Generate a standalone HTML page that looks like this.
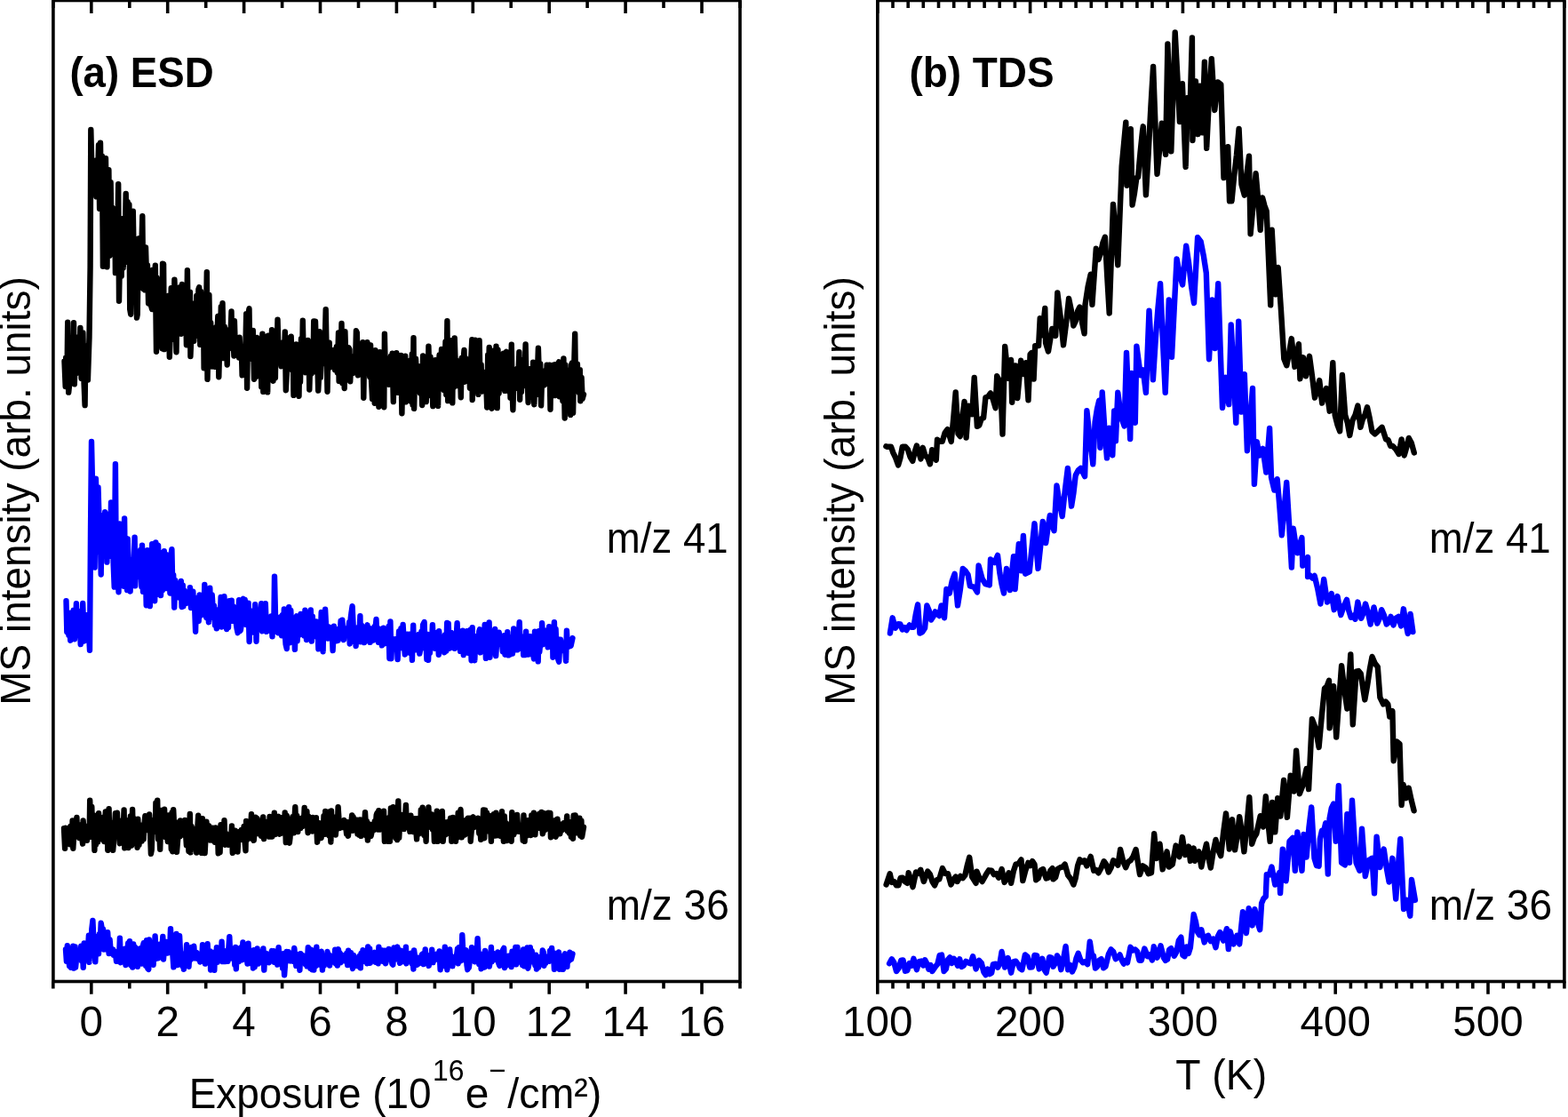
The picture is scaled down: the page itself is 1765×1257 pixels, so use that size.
<!DOCTYPE html><html><head><meta charset="utf-8"><title>ESD and TDS</title><style>html,body{margin:0;padding:0;background:#fff;overflow:hidden}svg{display:block}text{font-family:'Liberation Sans', Arial, Helvetica, sans-serif;fill:#000;font-kerning:none;font-feature-settings:"kern" 0}</style></head><body>
<svg width="1765" height="1257" viewBox="0 0 1765 1257">
<rect width="1765" height="1257" fill="#fff"/>
<polyline fill="none" stroke="#000" stroke-width="6.4" stroke-linejoin="round" stroke-linecap="round" points="72.5,406.5 73.7,435 74.2,402.5 75.6,414.5 76.2,362.7 77.2,441.6 78.4,430.3 79.1,401 80.1,417.5 80.8,405 82.1,429.3 83,363.2 83.8,432.3 85,390.4 85.7,420.2 86.7,383.9 87.5,410.6 88.6,379 89.4,411.8 90.4,368.9 91.6,425.9 92.3,411.4 93.4,374.5 94.6,432 95.6,456.1 96.4,389.1 97.2,413.3 98,407.1 98.9,427.6 100.5,379.6 101.6,300 102.3,146 103.5,196.2 104.3,200.9 105.6,182 106.1,215.2 107.4,180.6 108.4,221.4 109,180.3 109.9,208 111,163.1 112.1,234.9 113,160.8 113.8,223.4 114.9,175.7 115.9,299.8 116.8,212.9 117.8,231.3 119,178.3 119.8,245.3 120.5,300.4 121.4,216.9 122.4,191.2 123.5,287.6 124.6,205.2 125.5,264.4 126.2,233.5 127.5,262 128.2,262.9 129.3,235.5 129.9,307.1 130.8,261.9 131.8,301.7 133.2,207.2 134,338.8 135,286.5 135.9,260.9 136.7,310.8 137.7,246.1 138.7,301.4 139.8,254.7 140.5,284.4 141.7,217.9 142.5,279.2 143.6,227.2 144.3,295.3 145.4,230.2 146.2,348 147.2,353.8 148,293.7 148.9,329.6 149.8,237.7 151.1,319.7 151.9,278.4 153.1,304.9 154,357.6 154.7,353.8 156,268.5 156.8,323.8 157.8,300.4 158.5,304.9 159.4,275.9 160.3,243.2 161.3,324.9 162.5,278.8 163.1,326.4 164,278.4 165.4,324.9 166,298.5 167.1,341.5 168.1,307.2 169.1,328.9 170,343.8 171.2,348.1 172,303.7 172.9,336.2 173.9,320.9 174.8,298.8 176,395.8 176.5,312.4 177.7,324.1 178.6,366.1 179.2,389.1 180.3,320.5 181.6,348 182.5,392.3 183,296.7 184.1,297.1 184.9,393.1 186.3,343.1 186.9,384.6 187.8,369.9 189.3,368.1 189.9,332.8 190.8,401.8 191.6,379.6 192.7,324.2 193.7,355.6 194.7,342.5 195.4,381.8 196.4,314.7 197.4,344.7 198.5,396.2 199.3,341.5 200.5,361.1 201.2,362.2 202.5,323.2 203.5,324.3 203.9,375.7 205,320 206.1,327.1 207.2,343.3 207.8,348.2 208.8,324.7 209.9,388.3 210.9,304.2 212,380.4 213,360.8 213.9,328.8 214.4,401 215.9,365 216.6,344.3 217.3,359.2 218.3,383.8 219.5,341.1 220.3,372.7 221.3,332.9 222.4,377.8 223.4,325.6 224.2,323.3 225.3,387.9 226,327.9 227.3,371.5 228,349.3 229.2,370.7 229.6,414.2 231,359.6 231.8,371 232.8,306.2 233.5,426.8 234.6,381.6 235.4,331.9 236.3,384.1 237.2,363.2 238.6,412.5 239.4,371.8 240.1,386.1 241.1,371.7 242.2,412.8 243.3,368.3 243.9,389.3 245.3,355.9 246.3,424.2 246.8,404.4 248,384.1 248.8,345.3 249.9,383.4 250.5,341.1 251.7,403.1 252.7,367.6 253.7,384.8 254.7,371.2 255.7,410.5 256.3,378 257.2,388.8 258.3,371.1 259.3,382.8 260.5,350.5 261.3,392.1 262.3,375.5 263.4,400.5 263.9,361.1 264.9,393.7 265.9,385.7 266.8,397 267.9,387.2 269.1,402.6 269.6,379.8 270.7,399.5 271.8,392.3 272.6,422.4 273.8,390.2 274.6,405 275.7,392.2 276.2,398.5 277.2,353.1 278.1,436.7 279.4,353.7 280.5,347.2 280.9,378.7 282.3,399.6 283.2,376.5 284.2,404.4 284.8,372 286,426.8 286.7,380 287.6,424.5 288.9,383.9 289.4,379.9 290.8,403.8 291.5,395.8 292.5,423.6 293.7,399.5 294.3,435.5 295.4,375.8 296.3,440.9 297.1,400.5 298.2,408.7 299,409.4 300.3,378.7 301.2,441.4 301.9,377.6 303.3,425.5 303.9,383.5 305,421.1 306,371.2 306.7,396.5 307.5,428.7 308.9,385.6 309.9,425.3 310.4,388.3 311.4,407.9 312.5,359.7 313.5,396.9 314.7,385.5 315.6,401.3 316.6,412.3 317.1,386 318.3,403.9 319.1,394.7 319.9,407.3 320.8,373.5 321.8,439.2 322.9,418.6 323.7,380.1 324.7,415.6 325.5,390.5 326.8,390.2 327.7,378.8 328.5,416.1 329.6,388.2 330.5,444.9 331.6,394.9 332.7,418.5 333.3,387.5 334.4,415.2 335.1,401.8 336.5,445.8 337.3,395.9 338,430 339,381.3 339.9,417 340.8,360.8 341.8,404.8 343.1,392.2 343.8,419.2 344.7,394.6 345.7,409.8 346.6,382.9 347.8,401.7 348.3,438.5 349.4,398.3 350.4,420.7 351.3,396.8 352.5,412 353.2,361.5 354.2,418.3 355,361.6 356.3,408.2 357.1,394.7 358.2,439.6 358.9,426.1 359.7,373.3 360.8,424.8 362.1,388 363,409.3 363.7,391 364.9,406.6 365.4,397.2 366.7,348.2 367.5,390.4 368.5,440.7 369.3,398 370.7,385.8 371.3,413.5 372.6,403.9 373.1,412 374.2,406.1 375.2,412.2 376.3,393.8 377,416.2 378,403.2 378.8,390.2 379.8,419.3 381,374.4 381.6,428.9 382.8,404.8 383.6,415.2 384.5,364 385.4,431.3 386.8,404.7 387.7,437 388.4,373.2 389.4,408 390.5,410.6 391.4,427.3 392.5,391.3 393.5,393.2 394.2,429.3 395.2,405.7 396.1,418.8 396.9,410.4 398,419.9 399.1,400.8 399.9,416.3 400.9,372.3 401.8,374.3 403,422.4 403.9,399.4 404.4,401.7 405.8,415.4 406.8,414.7 407.7,410.6 408.4,385.1 409.3,447.7 410.2,391.4 411,386.5 412.2,413.3 413.4,385.2 414.3,417.5 415.2,409.8 416.2,423.9 417.1,388.4 417.8,423.3 419.1,449.2 419.8,421.2 421,419.4 421.7,453.7 422.5,394.1 423.8,440.4 424.4,446.6 425.8,403.9 426.4,457.8 427.6,396.2 428.1,418.9 429.4,397.8 430.4,427.1 431,401.6 432.3,458.3 432.9,375.8 434,427.7 435,413.7 436.1,420.9 436.7,413.1 437.7,432.8 439,411.8 439.9,400.7 440.7,425.2 441.6,397.6 442.8,452.1 443.6,418 444.4,437.7 445.7,416.8 446.3,397.1 447.6,441.7 448.4,400.5 449.4,435.5 450.4,437.3 451.3,400 452.4,465.3 453.3,415.8 453.9,418.4 454.8,430.2 456.2,400.8 456.7,452.3 457.7,410.8 459,435.4 460,418.7 460.9,430.7 461.7,405.8 462.5,451.6 463.8,398.4 464.6,455.7 465.5,380.2 466.1,459.8 467.2,417.2 468,403.8 469.5,431.5 470,419 471,424.6 472.1,412.4 472.9,442.3 474,414.7 475.2,456 476.1,400.4 476.7,442.2 478,441.6 478.7,403.8 479.7,452.1 480.6,421 481.9,436 482.4,389.7 483.6,429.6 484.5,401.8 485.5,445.6 486.1,415.5 487.3,457.1 488.5,406.4 489.2,419.1 490,405.3 490.8,438.3 492,410.6 493.1,456.9 493.7,412.1 494.6,399.4 495.9,431.9 497,393 497.7,419.9 498.8,406.5 499.5,439 500.5,413.4 501.5,384.4 502.3,444.1 503.4,361.2 504.2,451.1 505.6,413.7 506.4,420.7 507,430.1 508,383.1 509.3,453.4 510,391.3 510.9,435.7 511.7,380.4 513,420.8 513.9,405.7 515,434.1 515.6,412 516.9,428.4 517.9,414 518.8,447.2 519.7,403 520.5,424.1 521.2,409.5 522.5,394 523.1,429.7 524.1,403.2 525.2,420.8 526,412.5 527.2,422.2 528.4,413.9 528.9,436.7 530.2,403.7 531.3,382.3 531.7,450 532.9,416.5 534,423 534.9,382.7 535.6,424.5 536.9,411.8 537.6,416 538.4,443.9 539.6,383.2 540.6,437.6 541.6,410.4 542.5,440.5 543.1,418.2 544.3,433.4 545.2,437.9 546.3,424.2 546.9,421.1 548.2,458.5 549.2,399.5 549.7,428.6 550.7,390.9 552.1,454.5 553.1,429.2 553.6,459.7 555,420 555.6,427.9 556.7,394.2 557.6,426.5 558.5,389.7 559.7,459.1 560.5,393.8 561.6,442.7 562.4,414 563.5,422.1 564.3,405.8 565.2,412.6 566.2,436.7 566.8,397.7 568.2,439.9 568.8,405 570.2,395.8 570.6,413.7 572,403.5 573,440.7 573.8,401.1 574.5,447.6 575.8,387.7 576.5,437.8 577.4,461.2 578.6,415.7 579.7,423.3 580.2,418.2 581.3,436.7 582.4,414.7 583.1,433.3 584.4,396.2 585.2,449.7 585.9,404.8 586.9,441.2 587.8,417.8 588.9,434.5 590.1,432.7 590.6,418.8 591.6,387.5 592.6,432.8 593.7,425.6 594.6,453 595.6,424.8 596.3,415.1 597.7,434.5 598.4,420.1 599.6,443.5 600.1,407.7 601.3,455.2 602.2,427 603.4,422.2 604.3,443.8 605.1,416.1 605.9,391.8 607.1,430.4 608.2,409.4 609.1,456.3 610.1,422.8 610.9,428.9 611.6,417.7 612.5,433.6 613.8,421.7 614.8,431.9 615.6,410.8 616.7,422.2 617.4,426.3 618.6,410.8 619.5,460.8 620.2,412.8 621.3,418.1 622.3,438.6 623,410.7 624.3,445.1 625.2,410.3 625.8,436.1 626.8,427.8 627.6,411.4 629.1,407.3 629.6,446.2 630.9,413 631.7,440.7 632.4,414.7 633.4,451.1 634.4,403.4 635.7,470.5 636.4,410.7 637.2,455.9 638.6,420.6 639.3,436.8 640,418.8 641.5,416.3 642.2,466.9 643.1,410.4 643.8,408.5 645.1,464.6 645.7,430.6 647.2,375.7 648,432.8 648.9,438.3 649.9,409.6 650.9,439.7 651.6,441.8 652.8,416.3 653.3,451.3 654.6,424.9 655.6,448.9 657,443.8"/>
<polyline fill="none" stroke="#00f" stroke-width="6.4" stroke-linejoin="round" stroke-linecap="round" points="74.5,676.2 75.3,711.1 76.6,703.1 77.4,714.9 78.1,690.8 79.2,720.7 80.2,689.5 81,696.8 82.2,712.8 82.8,686.8 83.9,719.2 85,704.3 85.9,679.2 86.9,714.9 87.9,687.6 89,713.2 89.6,692.4 90.7,725.1 91.7,699.4 92.4,712.3 93.2,679 94.7,721.5 95.3,700.9 96.2,708.2 97.5,692.2 98.3,705.9 99.2,696.1 101,731.8 102,600 103,497 104,543.7 105,579.2 106.2,548.2 106.6,638.6 107.9,538.8 108.7,566.2 109.9,620.8 110.5,548.5 111.8,594.1 112.6,586.7 113.7,646.5 114.4,585.3 115.4,591.3 116.5,579.4 117.6,605.3 118.2,576.2 119.5,579.4 120.4,632.6 120.9,600.6 122.1,619 123.1,580.6 124.2,625.9 125,565.4 125.6,603.8 126.8,582.1 127.7,635.7 128.7,660.6 129.9,522.2 130.5,602.3 131.4,628.9 132.5,611.8 133.5,666.2 134.7,589.4 135.4,646.3 136.2,599.7 137.5,637.3 138.2,590.3 139.3,659.7 140.1,583.4 140.9,648.9 142.1,630 143.1,664.1 143.7,606.4 144.8,640 145.7,655.3 146.6,665.5 147.5,638.1 148.9,642.3 149.8,629.6 150.5,638.3 151.6,604.7 152.2,659.4 153.6,632.9 154.4,623.3 155.5,648.8 156.1,627.4 157.1,645.2 158.1,619 159.4,660.4 160,613.8 161,665.9 162.2,632.8 163.1,645.4 163.8,638.8 164.7,681.3 165.9,619.3 166.5,667.6 167.6,622 168.8,682.1 169.8,633.1 170.3,652.1 171.2,612.1 172.6,665 173.4,637.6 174.2,676.2 175.3,610.4 176,660 177.3,613.3 178.1,613.9 179.2,668.9 179.8,621.8 181,670.1 181.8,648.2 182.8,664.5 183.7,638.9 184.8,620.1 185.7,645.2 186.7,662.1 187.4,624.1 188.4,653.2 189.3,660.2 190.4,625.4 191.4,667.5 192.1,627.9 193.4,618.2 194.2,656.8 195.2,647 196.2,683.6 197.3,653.3 198.1,669.5 198.8,656.8 199.7,671.3 201,658.7 201.7,672.6 202.9,666.3 203.8,653.9 204.6,683 205.8,658.8 206.4,682.2 207.4,664.2 208.4,667.6 209.4,678.9 210.6,678.5 211.5,678.2 212.5,670.3 213.3,675.5 213.9,661.1 215,684.1 216.1,676.7 217.3,665.6 217.9,679.8 219,679.7 220.1,710.7 220.8,679.4 221.9,688.8 222.8,672.8 223.7,699 224.7,669.4 225.6,692.8 226.3,682.6 227.7,687.9 228.7,684.3 229.6,687.7 230.3,657.9 231.4,693 232.4,695.1 233,687.8 234.3,680.4 234.9,700.2 236.3,661.8 236.9,684.3 238.2,694.9 238.7,669.5 239.9,688.2 241,681.5 242,703.7 242.8,685.9 243.8,707.4 244.5,688 245.7,693.3 246.4,693.3 247.7,700 248.6,672 249.3,705.5 250.5,675 251,697.6 252.4,671.1 253.3,698.9 254,679.2 255.1,708 256.2,690.5 257,706.1 258.1,676.3 258.8,681.1 259.7,696.6 260.7,675.6 261.6,698.8 262.6,682.4 263.7,692.9 264.8,690.2 265.6,699.9 266.6,707.2 267.7,712.2 268.4,687.4 269.1,675.2 270.3,710 270.9,708.9 272.3,699 273.4,677.7 274,673.8 275.2,701.2 275.7,674.9 277.2,703 277.7,685.7 279,701.1 279.6,678.8 280.6,722 281.4,691.6 282.3,707.6 283.7,687.7 284.6,701.2 285.2,695.6 286.5,712.1 287.2,680.2 288.5,721.7 289,691.8 290.2,701.8 291.4,698.7 292.1,707.7 293.1,690.6 294.2,679.1 295.1,710.3 296.1,707.6 296.7,702.1 298,702.6 298.8,679.3 299.9,710.9 300.8,697 301.7,703.8 302.8,699.3 303.3,703.5 304.7,710 305.3,693.4 306.5,716.3 307.1,702.6 308.2,711.4 309,648.6 310.3,705.8 311,708 312,705.1 313.2,712.2 313.9,700 315.1,712.2 315.9,694.3 317.1,715.3 317.9,692.3 319,711.6 319.8,685.5 320.5,708.5 321.6,725 322.8,730.1 323.7,692.6 324.3,711.5 325.2,683.2 326.2,723.2 327.3,686.9 328,705.1 329.3,712.7 330,710.6 331.2,701.6 331.9,730.8 333.2,694.6 333.8,693.4 334.6,721.3 335.6,703.7 336.9,707.8 337.5,714.3 338.5,691 339.9,713.9 340.5,693.6 341.6,701.8 342.5,715.5 343.4,686.8 344.6,697.8 345,720 346.2,705.6 347.2,715.1 348.3,702.4 349.2,704.7 349.8,686.5 350.8,721.6 351.8,693.7 352.8,716.5 354,703.8 354.9,711.8 356,699.5 356.6,716.7 357.6,706.3 358.4,730.4 359.8,701.7 360.7,720.1 361.7,689 362.5,694.6 363.6,733.2 364.3,697.8 365.4,709.8 366.1,685.8 367.3,709.6 368.2,706.5 369.1,718.6 370.2,705.4 371.1,716.7 371.8,707.6 372.6,718.5 373.7,710.5 374.6,732.1 375.9,704.8 376.7,717.4 377.7,707.8 378.8,721.2 379.7,712.7 380.7,720.8 381.4,713.7 382.5,717 383.6,698.6 384.2,717.7 385.3,697.8 386.4,714.8 387,720.1 387.8,707.3 389,715.1 390.2,708.3 390.9,713.1 391.7,711.9 393.1,700.3 393.7,724.5 394.7,696 395.4,690.3 396.6,682.2 397.8,707.9 398.5,722.1 399.6,710.9 400.6,727 401.1,708.8 402.4,715 403,706.2 404.2,722 405.4,693.1 406,722.3 407.2,704 407.9,721.6 409,712 410,723.1 410.9,705.7 411.7,718.3 412.9,706.1 413.5,703.3 414.6,721.3 415.8,713 416.6,722.9 417.3,707.4 418.6,716.1 419.6,708.9 420.2,720.5 421.5,705.3 422,713.1 423.5,697 424.2,716.3 425,707.9 425.9,722.9 427,707.8 427.9,720.2 428.9,717.6 429.9,726.3 430.6,718.3 431.6,706.7 432.5,724.6 433.8,715 434.4,722.8 435.6,718.5 436.3,718.9 437.5,704.9 438.4,741 439.4,699.4 440.4,741.2 441.1,726 442.3,718.8 443.4,730 444.2,719.8 445.1,725.7 446.1,719.1 447.2,732.9 447.6,742 449.1,710.4 449.8,711.9 451,727.1 451.4,707.2 452.5,729.1 453.6,702.9 454.6,720 455.8,736.5 456.3,717.4 457.3,722.6 458.4,713.6 459.1,734.3 460.5,732.5 461,713.6 461.9,734.9 463.2,715 463.9,742.8 465.2,703.6 465.7,728.5 466.9,716.3 467.9,731.3 468.8,716.4 469.5,719.3 470.7,725.3 471.4,713.9 472.3,735.6 473.8,727.1 474.4,710.6 475.2,724 476.1,703.2 477.6,700 478.5,729.6 479.4,721 480.4,742 481,713.7 482.1,742.8 483.2,716.4 483.9,734.9 485.1,714.7 486.1,721.6 486.9,703.2 487.9,728.3 488.5,721.8 489.6,729.7 490.5,712.3 491.5,722.8 492.8,718.7 493.8,736.8 494.2,710.2 495.4,723.8 496.2,728.6 497.4,731.6 498.5,716.7 499,722.5 500.1,734.2 501,714.5 502.2,732.7 503.2,700.9 503.7,725.5 504.7,701.7 505.8,729.7 507.1,729 507.9,712 508.8,727.8 509.9,717.2 510.5,714.3 511.7,729.8 512.4,718.6 513.3,723.6 514.6,701.2 515.5,725.2 516.4,712.8 517.1,722.7 518.1,732.9 519.4,713.9 520.1,731.5 520.8,709.7 521.8,737.1 523,728.6 524.1,711.4 524.8,732.2 525.7,710.3 526.9,734.9 527.6,711.2 528.5,722.6 529.6,708.6 530.6,743.2 531.7,706.2 532.4,739.2 533.5,715.7 534.3,743.2 535.4,718.5 536.5,728.2 537,719.5 538.4,723.3 539.3,710.5 540,708.3 540.7,734.4 541.9,714.2 543,729.6 543.7,715.4 544.6,727.3 545.7,702.9 546.9,740.9 547.7,708.3 548.7,719.7 549.6,730.9 550.6,700.4 551.4,739.8 552.4,731.7 553.1,719 554.6,725.5 555.1,712.2 556.4,716.7 557.2,707.9 558.2,738.1 559.1,723.8 560,715.1 560.9,724.5 561.7,711.6 562.9,724.6 563.9,721.5 564.7,721.4 565.9,733.3 566.9,729.5 567.5,715.3 568.5,736.7 569.3,721.4 570.6,723.4 571.2,711.1 572.2,737.4 573.6,721.4 574.1,736.6 575.4,717.2 576.2,725.8 576.9,735.6 578.2,707.5 579,724.1 580.1,719.1 580.8,731.4 581.7,716.6 582.6,731.3 583.5,720.5 584.7,700.2 585.6,728.2 586.3,719.6 587.4,729.8 588.5,716.7 589.2,737.1 590.1,720.4 591.4,737 592.1,710.7 593.2,727.9 594.4,721.6 594.9,736.6 596,722.7 596.9,716.2 598.2,726.1 599,721.3 599.7,733.9 601,741.4 602,710.6 602.9,727 603.5,718.7 604.9,717.5 605.7,744.4 606.5,710.2 607.3,733.4 608.5,720.4 609.2,725.5 610.1,701.1 611.4,725.2 612.4,723 613.3,709.8 614.1,722.3 615.3,709.5 616.3,716.4 616.7,728.4 618.1,705.1 619.1,721.3 619.9,717.8 620.8,725.4 621.9,705.4 622.4,739.7 623.9,700.2 624.6,727.5 625.6,708 626.6,736 627.4,719 628.3,742.1 629.2,744.7 630.1,726.3 631,719.6 632.4,732 633.4,730.5 634.2,723.6 634.9,727.7 635.9,724.2 637.1,743.7 637.9,709.8 638.8,726.1 640,724.3 640.6,727.6 641.5,722 642.6,726.9 644.5,718.1"/>
<polyline fill="none" stroke="#000" stroke-width="6.4" stroke-linejoin="round" stroke-linecap="round" points="72,932.1 73.1,954.9 73.9,931.8 74.7,936.8 75.5,934.5 76.7,943.4 77.6,933.3 78.4,950.2 79.3,929.9 80.8,943.4 81.6,923.5 82.3,954.8 83.4,935.8 84.6,931.7 85.5,937.9 86.4,919.9 87.1,941 88.1,930.9 89.2,943 89.8,928.4 91,943.2 91.8,939 93.1,949.5 93.6,923.5 94.9,941 96,940.3 96.5,929.7 97.9,945.7 98.8,930.7 99.3,941.9 100.6,942.1 101.2,900.6 102.4,933.1 103.3,907.9 104.1,937.2 105.2,917.1 106.4,956.8 107,932.1 107.9,950.6 109.2,927.8 110,947.6 111.1,915.3 111.7,938.3 112.7,927.8 114,931.4 114.8,929.5 115.7,944.9 116.5,919.8 117.3,947 118.8,913.4 119.3,940.6 120.6,924.4 121.3,956.8 122.6,910.1 123.2,944.5 124.5,925.6 125.2,933.2 126,925.9 127.2,956.8 128.1,946.1 129.1,929.4 129.9,915.1 130.7,932.5 131.9,914.6 132.6,931.2 133.9,923.2 134.8,949.2 135.6,929.3 136.8,937.3 137.4,930.8 138.4,941.8 139.6,911.5 140.3,954.4 141.5,922.7 142.4,928.9 143.5,937.7 144.5,954.1 145.3,928.7 146.3,934.4 146.9,918.5 148.1,951.5 149.1,911 149.8,940.7 150.9,921.3 151.8,933.5 153,926.1 153.6,933.4 154.6,953.8 155.3,921.8 156.5,950.8 157.6,928.2 158.7,929.8 159.6,946.6 160.3,929.5 161.6,944.3 162.1,931.2 163.4,918.1 164,928.7 165,933.6 165.8,927.4 167.2,934.4 168.1,916.4 168.7,928.1 169.9,960.8 170.7,956.7 171.7,923.4 172.7,936.6 173.4,924.6 174.8,933.6 175.4,903.4 176.5,936.3 177.2,900.6 178.1,944.5 179.2,934 180.2,955.9 181.5,912 182.4,941.8 183.1,920.9 184.1,937.6 185.1,910.6 186.2,942 186.9,931 188.1,941 188.8,947 189.9,917.4 190.9,936.5 191.7,921.3 192.8,955.7 193.7,914.1 194.3,958.2 195.2,911.3 196.2,931.8 197.2,943 198.2,925.4 199,958.8 200.1,945.3 201.3,932.4 202.4,941.4 203,923.4 204,938.8 205,934.9 206.1,939.6 207.1,938.9 208.1,923 208.7,932.3 209.9,951.2 210.6,939.9 211.8,934.6 212.4,957.9 213.8,916 214.5,959.4 215.6,930 216.4,939.2 217.2,932.7 218.3,939 219,934.5 219.9,937.5 221.2,959.6 222.1,935.1 223.2,917.8 223.7,957.2 225,951 225.9,928.4 226.9,959.9 227.9,921.1 228.8,947.5 229.7,937.6 230.6,960.1 231.7,939.7 232.4,924.6 233.5,938 234.5,934.3 235.2,929.2 236.6,945.5 237.4,935 238.5,938.6 239.1,931.6 240.1,946.1 241,939.4 241.8,947.8 242.7,931.4 243.8,944.3 245.1,939.4 245.7,960.4 246.9,941.7 247.6,959.1 248.5,928.2 249.5,947.7 250.7,934.3 251.6,943 252.5,923.1 253.4,950.7 254.3,937.7 255.3,939.2 256.5,946.3 257.1,950.8 258.3,942.6 259,942.6 259.9,949.7 260.9,929.5 261.8,959.8 263.2,938 263.8,951.7 264.7,934.7 265.5,952.9 266.5,941.5 267.5,958.6 268.6,936.1 269.7,937.8 270.8,943.5 271.7,934 272.3,944.7 273.5,937.6 274.6,930 275.1,942.4 276.5,957.2 277.1,924 278.3,944.9 279,931 280.1,943.4 281,932 281.7,942.8 283,916.2 284,944.2 284.8,934.9 285.7,945.9 287,931.4 287.6,919.7 288.8,934.8 289.5,921.1 290.4,938 291.4,925.2 292.1,938.7 293.2,925.2 294.1,940.8 295,929.7 296.2,919.4 297.1,944.1 297.8,932.1 298.9,932.9 300.2,925.1 300.7,934 301.8,928.9 303.1,941.6 303.6,918.9 304.7,933 305.9,936.6 306.4,941.6 307.4,934.9 308.8,914.6 309.6,939.1 310.3,925 311.4,935.5 312.2,921.5 313.5,918.9 314.5,938.7 315,920.6 316.2,937.8 316.9,920.1 318,931.9 319.1,920.1 320.1,933.7 320.7,914.4 321.8,948.1 322.8,917.9 323.7,929.5 324.8,927.4 325.8,948.7 326.5,943.1 327.5,922.1 328.3,936.8 329.4,919.3 330.7,937.3 331.4,923.7 332.3,908.2 333.3,931 334.2,917.9 335.3,936.1 336,926.5 336.9,925.3 338.2,932.2 338.9,921 340.2,927.5 340.6,930.2 342,924.8 342.7,909 343.7,928 344.9,919 345.4,913 346.6,937.2 347.4,918.8 348.4,926.4 349.6,933 350.3,928.5 351.5,935.5 352,920 353.5,933.4 354.4,928 355.2,934 355.9,920.2 357.1,947.9 357.8,942.7 358.8,932.7 359.6,926.2 360.6,940.3 361.6,943 362.5,926.8 363.8,938.4 364.5,918.2 365.7,938.9 366.2,912.9 367.2,933.1 368.1,926.8 369.6,913.8 370.5,940.5 371,923.8 372.4,947.5 373,912.5 374,937.6 375.1,925.5 375.8,931 377.2,919.7 377.8,939.5 378.9,927.6 379.8,933.2 380.6,908.2 381.8,926.7 382.9,931.8 383.7,925.8 384.3,930.3 385.7,925.4 386.5,931.1 387.4,922.9 388.4,926.4 389.2,930.3 390.1,938.4 391.2,925.2 391.9,940.8 393.2,930.4 393.9,928.8 394.9,930 396.2,917.4 397,934.9 397.7,919.3 398.9,928.4 400,924.5 400.9,930.9 401.8,922.6 402.5,938.5 403.6,928.4 404.5,939.8 405.2,922.5 406.5,940.9 407.4,923 408.3,937 409.4,926.9 410,931.5 411,914.1 412.4,940.5 412.9,924.3 413.9,945.6 414.7,927.3 415.8,936.4 416.9,927.8 417.5,941 418.6,936 419.6,927.8 420.5,934.4 421.8,924.3 422.8,928.9 423.7,917 424.4,915.1 425.2,933.6 426.3,912.3 427.3,933.6 428.2,925 429.3,929.3 430.3,924.1 431.3,931.3 432,912.7 432.9,946.8 434.2,923.9 435.1,931.1 435.6,923.6 436.6,946.8 437.8,920.3 438.9,946.8 439.9,909.4 440.3,926 441.4,924.4 442.5,908.3 443.5,929.6 444.6,925.2 445.4,943.1 446.3,916.1 447.1,945.1 448.3,901.5 449.2,942.9 450.4,921.5 450.9,928.4 451.8,916.9 452.9,930.6 453.8,916.9 454.8,933.1 455.6,928.3 456.9,905.9 457.9,930.2 458.4,924.4 459.8,928.6 460.3,924.5 461.4,935.9 462.4,917.8 463.4,933.6 464.2,927.1 465.4,936.1 466.4,935.7 467,921.2 468,930.5 469.1,944.4 469.8,921.2 471.3,938.6 472.2,925.9 473.1,937.3 473.8,911.5 475,936.5 475.7,908.7 476.7,918.4 477.4,939.8 478.3,919.3 479.6,946.8 480.3,916.8 481.7,931.1 482.4,908.4 483.4,930.1 484.5,919.3 485.1,930.1 485.9,916.4 487,933.5 488.1,922.6 488.9,946.8 489.9,926.3 491.1,929.8 491.8,912.7 492.8,946.8 493.6,922.1 494.8,945.6 496,914.5 496.5,932.1 497.8,913 498.7,946.8 499.6,935.4 500.5,925.3 501.4,939.3 502.1,927.5 503.3,931.2 504.5,924.7 505.3,937.8 506.1,928.3 507.1,920.6 508.3,946.8 508.7,938.6 509.8,920 511.2,946.4 511.9,930.2 513,946.8 513.8,931.3 514.4,942.9 515.7,914.6 516.7,929.8 517.3,918.3 518.5,910.9 519.7,942.3 520.2,926.2 521.1,930.1 522.1,925.2 523.4,939.5 524.4,936.6 525,922.4 526.3,937.2 526.9,920.6 528,929.6 529.1,920.6 529.7,946.8 530.8,934.2 532,922.7 532.7,919.3 533.9,931.1 534.6,921.2 535.9,930.1 536.5,926.4 537.7,925.5 538.2,920.7 539.3,937.7 540.1,926.5 541.2,944.8 542.2,925.7 543.1,939.1 544.1,911.5 545.2,943.2 546.1,911.6 546.9,930.3 548.1,914.7 549,923.3 549.8,935.4 550.8,928.6 551.6,918.1 552.9,946.8 553.6,922.7 554.5,933 555.8,916.2 556.4,938 557.3,940.4 558.3,914.7 559.4,940.2 560.4,940 561.2,925.2 562.3,937.5 562.9,940.8 564.3,919.5 565,913.3 566,936.2 566.9,946.8 567.8,918.5 569,940.4 569.8,926.5 570.5,946 571.6,928.3 572.6,936.4 573.5,929.8 574.3,941.7 575.7,946.8 576.3,914.1 577.5,933.4 578.3,939.4 579.3,935 580.4,929.7 580.9,935.8 582.1,916.9 583.1,929.9 584,935.8 584.7,935.9 585.7,929 586.9,931.8 587.8,928.5 588.7,945.8 589.5,917.5 590.6,946.8 591.7,923.7 592.8,940.6 593.7,926.9 594.2,923.1 595.4,932.3 596.4,927.8 597.5,940 598.3,917.5 599.4,932.2 600.3,936.6 600.9,914.7 602.4,939.3 603.1,927.3 604.1,929.6 604.8,923.7 606.1,931.2 607.1,915.7 607.7,932 608.7,926.3 609.5,914 610.8,938.4 611.7,935.4 612.4,915.2 613.7,933.8 614.5,924.8 615.6,931.7 616.5,925.2 617.1,914.7 618.1,932.8 619.4,914.9 619.9,942.2 620.9,925.3 622.3,933.1 623.2,934.7 623.8,926.5 624.8,923.4 625.6,941.7 626.6,937.9 627.5,921.7 628.7,934.4 629.7,927.1 630.4,938.2 631.7,929.1 632.5,931.4 633.5,933.8 634.5,926.3 635.2,930.6 636.5,929.4 637.2,930.3 638.2,918.4 638.9,935.4 640,929 641,937.7 642.1,925.2 642.9,941.8 643.9,929.5 645,943.7 645.7,917.7 646.5,930.8 647.7,917.4 648.9,932 649.3,937.4 650.5,927.1 651.6,932.1 652.4,920.6 653.2,940.3 654.4,923.6 655.1,941.7 657,930.7"/>
<polyline fill="none" stroke="#00f" stroke-width="6.4" stroke-linejoin="round" stroke-linecap="round" points="74,1068.5 74.9,1081.9 75.8,1064.3 76.8,1074.4 78.1,1087 78.8,1073.2 79.8,1088.9 80.6,1073.1 81.7,1083.6 82.3,1064.7 83.2,1089.6 84.6,1065.5 85.1,1088.4 86.6,1073.4 87.5,1080 88.4,1070.1 88.9,1072.1 90,1077.2 91.3,1064.6 92,1081.4 93.1,1076.4 93.7,1088.9 94.7,1061.5 95.8,1080.5 96.9,1079.6 97.8,1061.7 98.5,1077.3 99.9,1052.6 100.4,1082.9 101.5,1064.8 102.5,1070.7 103.3,1045.5 104.4,1036 105.6,1061.3 106.3,1060.1 107.3,1082.3 108.5,1054.5 109,1073.6 110.3,1062 111,1073.3 111.9,1050.8 113.2,1049.9 113.7,1038.7 115.1,1047.4 116,1045.4 117,1068.5 117.4,1054.7 118.5,1068.4 119.8,1065.4 120.5,1068.3 121.2,1049.3 122.6,1073.1 123.6,1057.4 124.6,1069.2 125.1,1066.9 126.1,1073.1 127.4,1068.5 127.9,1074.8 129,1070.6 130,1073.4 131,1081.7 132,1071.9 133.1,1076 133.9,1082 134.9,1055.6 135.8,1083.2 136.5,1067.4 137.6,1079.7 138.9,1070.8 139.8,1076 140.7,1067.7 141.5,1086.1 142.6,1078.7 143.4,1071.5 144.2,1061.4 145.3,1077.6 146,1059.2 147.2,1086.2 148,1071.2 149.2,1088.6 150.2,1062.5 151.2,1077.7 152.1,1065.9 152.6,1078.4 153.9,1070.3 154.9,1087.8 155.9,1069.3 156.6,1078.8 157.6,1067.5 158.6,1084 159.3,1084.4 160.7,1065 161.7,1061.3 162.2,1084.8 163.6,1081.2 164.1,1086.7 165,1058.2 166.3,1089.9 167.3,1090.8 167.9,1057.5 169.3,1081.1 169.9,1061.4 170.7,1081.5 171.7,1061.4 172.6,1085.7 173.9,1067.6 174.6,1053.4 175.8,1078.9 176.6,1063.7 177.3,1076.7 178.5,1078.1 179.7,1062.8 180.2,1073.3 181.6,1063.1 182.1,1071.5 183.3,1053.9 184,1079.5 185.4,1062.4 186.1,1068.5 187.3,1060 188.1,1060.2 188.9,1072.6 189.8,1065.6 191.1,1069.7 192,1045.2 192.9,1071.5 193.9,1052.8 194.4,1074.6 195.4,1088.4 196.6,1063.5 197.3,1070.7 198.5,1050.9 199.7,1086 200.3,1053 201.4,1083.5 202.1,1053.2 203.4,1079.8 204.4,1072.9 205.3,1087.1 206,1074.4 206.9,1090.7 207.7,1075.3 209.1,1079.7 210.1,1063.2 210.8,1081.3 211.9,1075.5 212.5,1087.7 213.8,1067.5 214.5,1080 215.7,1065.9 216.2,1078.8 217.4,1069.7 218.3,1064.7 219.1,1078.4 220.2,1076.3 221.5,1072.1 222.1,1078.7 222.9,1078.2 224.2,1076.4 225.2,1082.6 225.9,1073.9 227.2,1080.8 228,1063.1 228.9,1078.2 230,1069.3 230.9,1084.6 231.8,1074.7 232.5,1079.4 233.6,1062.2 234.6,1082 235.7,1079.3 236.7,1070.4 237.1,1091.5 238.4,1079 239.5,1086.6 240.2,1078 241.3,1091.8 242,1071.4 243.3,1079.6 243.9,1066.2 244.9,1082.7 245.8,1076.4 246.7,1076.3 247.9,1078.8 249,1074.1 249.6,1059.8 250.5,1082 251.6,1073.5 252.5,1070.2 253.6,1082.1 254.3,1074.4 255.5,1070.5 256.4,1081.9 257.1,1070.5 258.3,1054.2 259.2,1074.9 260,1078.4 261.1,1070.8 262.2,1075.4 263.3,1070.9 264.3,1085.9 265.1,1066 265.8,1090.3 266.6,1072.6 267.9,1077.5 268.8,1082.2 269.9,1067.2 270.5,1075.8 271.7,1065.9 272.3,1080.4 273.4,1060.5 274.4,1078.1 275.6,1077.5 276.3,1072.2 277.4,1074.5 278.5,1084.5 279.5,1061.6 280.1,1080 280.9,1077.8 282.1,1075.2 283.2,1084.3 284,1069.6 285,1089.5 285.7,1069.1 286.7,1088.1 287.6,1075.5 288.4,1084.1 289.6,1067.5 290.8,1084.6 291.5,1075.2 292.8,1081.2 293.4,1078.3 294.3,1071.3 295.6,1082.7 296.4,1067.5 297.3,1091.6 298,1077.1 298.9,1079.8 299.9,1072.9 300.9,1082 302,1074.2 302.9,1083.2 303.9,1074.7 304.7,1077.1 305.9,1070.1 307,1081.4 307.9,1070.3 308.7,1082.7 309.5,1075.2 310.7,1082.8 311.7,1072.8 312.2,1085.5 313.6,1066.2 314.6,1080.5 315.1,1074.3 316.1,1084 317.3,1078.9 318.1,1089.4 318.9,1073.3 320.1,1097.3 321.2,1083.1 322.1,1078.7 322.6,1070.9 323.6,1081.5 324.8,1071.1 325.8,1077.2 326.9,1081.5 327.8,1076.5 328.7,1078.6 329.8,1081.7 330.4,1074.4 331.3,1067 332.2,1077.1 333.3,1086.8 334.5,1073.9 335.3,1080.6 335.9,1075.3 337.4,1091.7 338.3,1073.3 338.8,1082.3 340.2,1074.6 340.8,1076.8 341.6,1079.1 342.8,1075.8 343.9,1085.1 344.6,1076.1 345.7,1087.4 346.8,1066.1 347.4,1082.3 348.6,1073.8 349.4,1089.9 350.2,1068.8 351.6,1091.3 352.4,1077.6 353.3,1091.6 354.2,1071.9 355.1,1087.4 356.3,1065.6 356.8,1078.6 357.8,1072.7 358.8,1075.3 359.7,1085.6 360.9,1075.9 361.8,1070.7 362.9,1091.6 363.8,1077.8 364.9,1086.8 365.8,1077.1 366.3,1076.8 367.3,1080.6 368.6,1071 369.7,1083.2 370.6,1074.7 371.1,1086.5 372.4,1075.9 373.1,1079 374.1,1082.5 375.3,1076.4 376.2,1082.5 377.2,1068.6 378.1,1084.5 379.2,1073.6 379.8,1086.6 380.8,1068.2 382,1073.6 382.9,1072.7 383.4,1083.2 384.5,1074.6 385.5,1078.1 386.6,1075.2 387.4,1081.4 388.6,1078.5 389.6,1080.5 390.3,1072.8 391.2,1086.1 392.1,1069.6 393,1079.4 394.1,1083.2 395.1,1072.3 396.3,1085.7 397,1090.1 398,1074.9 398.7,1081.1 400.1,1079.6 400.8,1086.9 401.6,1084.2 402.6,1078.8 403.8,1087.6 404.5,1076 405.8,1089.3 406.5,1072.9 407.6,1082.5 408.5,1069.3 409.5,1077.6 410.2,1072.7 411.4,1079.3 412.4,1071.5 413.3,1084.2 414.2,1065.5 415.2,1082.3 416.2,1067.8 416.8,1083.9 417.6,1078.4 419.1,1079.4 419.7,1076.2 420.5,1080.9 421.9,1071.8 422.8,1082.8 423.7,1076.9 424.3,1076.5 425.7,1084.3 426.4,1065.6 427.2,1079 428.2,1073.1 429.1,1080.7 430.5,1069.4 431.4,1082 432.4,1081.5 433,1069.6 434.1,1084.3 435.1,1080.5 435.9,1077 436.6,1078.6 437.6,1067.9 438.6,1069.1 439.7,1078.9 440.7,1077.7 441.4,1084.7 442.3,1085.7 443.5,1066.4 444.6,1072.7 445.5,1079.4 446.5,1071.3 447.4,1065.6 448.1,1079.8 449,1075.5 450.1,1083.9 451.2,1069.6 452.3,1080.6 453.3,1073.5 454.3,1082.1 455.2,1074.4 455.8,1082 456.9,1065.6 457.5,1084.4 459,1077.5 459.8,1080.7 460.4,1078.4 461.8,1079.3 462.7,1072.7 463.8,1084.4 464.2,1074.9 465.4,1090.5 466.1,1069.5 467.6,1080.9 468.1,1077.2 469.3,1085.9 470.3,1080 471.2,1077.8 472,1084.2 473,1080.5 474.1,1082.2 475,1074.1 475.8,1073.5 476.9,1085.1 477.8,1080.2 478.7,1068.4 479.8,1083.4 480.4,1083.6 481.5,1075.2 482.7,1086.9 483.6,1075.8 484.5,1075 485.6,1082.2 486.2,1068.6 487.5,1083.1 488.4,1074.5 489.3,1080.3 490,1074.8 490.8,1078.3 492.2,1073.6 492.7,1079.4 494,1077 494.6,1070.4 495.6,1091.2 496.7,1076 497.9,1086.6 498.5,1074.7 499.8,1084.7 500.8,1065.8 501.6,1087.7 502.4,1075.1 503.4,1091.2 504.6,1079.5 505.3,1082.3 506.3,1068.5 507.2,1083.6 508,1077.1 509.4,1087.2 510.1,1077 511.1,1080.5 512.1,1077.7 512.9,1080.6 513.7,1077.9 515,1067.7 515.6,1084.2 516.6,1066.2 517.8,1081.7 518.6,1074.2 519.6,1080.9 520.3,1052.2 521.6,1078.5 522.6,1075.9 523.3,1079.3 524.5,1069.2 525.5,1086.1 526.3,1091.2 527,1077.1 527.8,1089 529.3,1077.8 530.2,1079.3 531,1066.2 531.9,1079.9 533,1071.7 533.7,1073.2 534.6,1082.3 535.6,1081.5 536.6,1074.8 537.6,1056.2 538.3,1069.5 539.3,1085.1 540.5,1075.6 541.6,1090.2 542.4,1073.9 543.2,1081.1 544.5,1078.1 545.4,1088.5 546,1069.9 547.4,1080.1 548.2,1074 548.9,1079 550,1076.2 550.8,1087.6 552.1,1080.2 552.9,1065.9 553.5,1082.3 554.7,1072.7 555.7,1073 556.8,1080.1 557.8,1077.3 558.6,1074.3 559.5,1078.7 560.4,1071.5 561.2,1083.9 562.4,1086.9 563.3,1073.6 564.1,1085.3 565.3,1080.5 566,1069.2 567.2,1066.9 567.9,1089 568.8,1075.6 569.9,1086.7 571.1,1076.7 571.6,1083 572.6,1075.6 573.6,1080 574.9,1078 575.6,1088 576.5,1070.8 577.4,1080.5 578.4,1072.3 579.4,1081.3 580.3,1066 581.1,1085.4 582.4,1066 583,1077.9 584.2,1075.7 585.1,1075.9 585.8,1082.7 586.9,1072 588.1,1086.1 589.1,1068.5 590.1,1087.4 590.6,1074.4 591.9,1070.6 592.6,1081.5 593.5,1066.5 594.4,1089.7 595.8,1082.8 596.8,1066.1 597.5,1082.5 598.7,1070.1 599.1,1074.7 600,1081.6 601.2,1076.6 602.4,1086.3 603.2,1074.8 604,1090.5 605.3,1077 606.1,1088.9 606.9,1081.3 607.9,1081.2 608.9,1076.5 609.6,1085.3 610.8,1069.5 611.8,1071.7 612.4,1086.7 613.4,1076.8 614.3,1083.9 615.3,1076.7 616.2,1079.7 617.4,1078.4 618.5,1081.7 619.1,1069.9 620.5,1077.9 621.1,1066.9 621.9,1079.9 623.1,1073.7 623.9,1090.9 624.9,1073 625.8,1082.9 627.1,1075.9 627.8,1081.1 629,1071.5 629.9,1090.9 630.8,1088 631.8,1075.8 632.4,1078.4 633.8,1090.8 634.5,1077.6 635.2,1080.6 636.2,1073.3 637.6,1078.5 638.4,1087.8 639,1076.6 640,1081.7 641.4,1071.6 641.9,1079.9 643,1079.5 644.5,1073.4"/>
<polyline fill="none" stroke="#000" stroke-width="6.4" stroke-linejoin="round" stroke-linecap="round" points="997.4,502.3 998.5,502.7 1003,502.7 1005.4,509.6 1008.2,515.3 1011.1,523.4 1013.5,515 1015.8,502.7 1019.2,502.7 1021.9,505.9 1024.6,514.4 1027.3,518.8 1029.6,508.9 1031.9,501.5 1036.5,516.5 1038.8,503.8 1041.5,512.8 1044.2,515.1 1046.9,522.3 1049.2,506.1 1053.8,517.7 1055,494.6 1057.8,496.9 1060.7,496.9 1063.6,487.1 1066.5,483.1 1070.7,496.9 1073.2,471.4 1075.7,441.5 1078.5,488 1080.8,491 1083.2,469.8 1085.6,452 1087.6,492.6 1090.3,456.8 1091.9,465.5 1094.3,466.3 1096.7,425 1099.9,479.8 1102.3,478.6 1104.7,471.2 1107.1,470.3 1109.4,447.2 1112.2,446.3 1115,442.4 1117.8,449.6 1120.6,459.2 1122.2,423.3 1126.2,430.5 1128.5,488.6 1131.2,389.9 1134.9,425.7 1138.1,405 1139.2,452.8 1142.9,411.4 1145.3,448 1149.2,405.8 1152.4,421 1154.8,408.2 1157.5,450.4 1159.6,398.7 1161.2,397.1 1163.6,426.5 1165.2,389.1 1169.1,389.1 1170.7,358.1 1173.1,377.2 1176.3,347 1177.1,386 1180,395.5 1184.2,370 1188.2,378 1190.3,329.4 1193.8,357.3 1197,388.4 1200,364.7 1203.1,335.9 1205.8,348.9 1208.4,366.5 1210.7,361.5 1213.1,349.9 1215.4,345.5 1218,362.5 1220.6,375.3 1221.5,342.9 1224.6,322.8 1227.7,308.7 1229.4,342.9 1233.8,279.8 1236.4,292.1 1238.9,285 1241.4,273.1 1243.9,266.7 1246.3,311.5 1248.7,352.5 1253,229.9 1255.7,262.4 1258.3,298.2 1262.7,187 1267.3,137.6 1268.4,208.7 1272.8,145.3 1274.6,230.6 1277,217.4 1279.4,200 1281.1,199.3 1283.5,172 1286,147.5 1286.8,142.3 1289.9,219.4 1292.6,173.8 1295.4,120.3 1298.1,74.9 1302.5,195.8 1305.2,168.5 1307.8,138.8 1312.1,173.9 1314.4,49.5 1318.3,170.4 1322.7,36.4 1325.3,84.9 1327.9,137.1 1330.9,94.2 1334.6,187.9 1337,110 1339,140 1341.9,42.5 1342.4,158.1 1345.9,91.5 1348.4,151.1 1350.7,96.8 1353.3,149.3 1355.9,69.7 1358.2,166.9 1361,110 1363.8,66.2 1367.3,124 1370.8,92.4 1374.3,95 1377.5,200.1 1379.8,184.1 1382.2,165.1 1384,226.4 1386.5,226.2 1389.2,198 1391.9,174.8 1394.6,144.9 1397.5,207.6 1400.8,219.7 1403.4,195.9 1406,175.7 1407.6,263.3 1410.6,230.5 1413.6,195.3 1416.2,224.7 1418.7,258.8 1421.1,222.5 1423.4,231.4 1425.7,237.6 1430.2,343.4 1431.7,258.8 1435.6,331.3 1438.7,301 1442,349.6 1445.3,403.8 1448.3,411.3 1451,397.6 1453.8,381.1 1457.4,412.8 1461.9,387.2 1463.4,426.4 1467,402.3 1470,423.4 1474,400.8 1477,423.2 1480,447.6 1482.6,439.1 1485.2,428 1488.2,453.6 1490.6,443.7 1493,437 1496.7,462.7 1500.3,408.3 1502.7,467.2 1505.5,478.1 1508.2,485.3 1510.9,421.9 1514.2,467.2 1516.8,475.7 1519.3,489.9 1522.4,473.3 1525.4,467.3 1528.4,456.6 1531.4,480.8 1533.9,471.7 1536.5,466.7 1539,458.2 1541.7,470.5 1544.4,485.3 1547.7,488.3 1551,485.3 1555.6,480.8 1560.1,494.4 1562.6,495.1 1565.2,501.8 1567.7,502 1571.2,505.5 1574.6,511 1577.6,494.4 1580.7,512.5 1583.2,503.7 1585.8,492.9 1588.8,498.5 1591.8,509.5"/>
<polyline fill="none" stroke="#00f" stroke-width="6.4" stroke-linejoin="round" stroke-linecap="round" points="1001.9,712.6 1004.7,695.3 1007.7,706.8 1011.1,702.2 1013.4,702.5 1015.8,708.5 1018.1,706.1 1020.4,709.1 1023.8,703.4 1026.1,705.8 1028.4,705.7 1030.8,691.4 1033.1,680.3 1035.4,712.6 1038.2,711.1 1041.1,706.8 1043.4,681.4 1045.8,687.2 1048.1,697.6 1050.4,694.1 1052.7,688.4 1057.3,693 1059.6,681.4 1063,695.3 1065.4,663 1068.8,667.6 1071.7,653.9 1074.6,645.7 1078,681.4 1080.9,663.4 1083.8,639.9 1086.7,642.4 1089.6,646.8 1091.9,659.5 1096.5,660.7 1100,666.4 1101.6,636.5 1105.7,651.5 1109.2,657.2 1113.8,658.4 1115,629.5 1119.6,633 1123,624.9 1125.3,644.5 1127.7,658.1 1130,667.6 1133,639.9 1136.9,664.1 1141,626.1 1142.6,663 1146.8,612.2 1149.6,642.2 1151.9,603 1154.2,645.7 1158.8,643.4 1161.7,615.2 1164.5,589.2 1168.5,639.9 1171.2,614.8 1173.8,586.9 1177.2,611.1 1179.6,593.7 1181.9,579.9 1186.5,597.2 1189.5,546.5 1192.6,565.7 1195.7,581.1 1198.8,552.1 1201.9,526.9 1206.1,569.6 1208.4,555.1 1210.7,535 1213.6,529.5 1216.5,526.9 1221.1,536.1 1223.4,462.3 1226.8,493.6 1230.3,522.3 1232.6,475 1234.9,460.6 1237.2,450.8 1238.4,503.8 1240.7,441.5 1243.3,481.3 1246,515.4 1248.6,481.8 1252.3,512.2 1254.2,462.4 1255.9,496.4 1258.3,441.8 1262,469.7 1265.6,479.4 1268,396.9 1272.2,494 1273.6,420 1277.8,475.8 1279.4,389.6 1283.8,422.4 1286.7,416.3 1289.9,441.8 1293.5,349.6 1297.9,427.2 1300.8,381.2 1303.4,347.4 1306.1,319.3 1308.9,383.3 1311.7,441.8 1315.8,337.5 1319,401.8 1321.8,345.6 1324.6,291.4 1327.8,308.8 1331.1,320.5 1335.2,276.8 1338.1,296 1341.1,322.4 1344,341.1 1348.1,267.1 1351.7,272 1354.8,287.8 1357.8,307.2 1361,404.2 1364.4,337.5 1367.5,392.1 1371.2,319.3 1373.6,390.4 1376,458.8 1379.6,424.8 1383.3,455.1 1385.7,365.4 1388.5,418 1391.3,475.8 1394.2,361.7 1397.4,463.6 1400.8,421.2 1403.9,507.3 1407,474.4 1410,437 1411.9,544.9 1414.8,497.2 1417.6,512.5 1421.5,504.8 1425.3,531.6 1429.1,481.9 1431,537.3 1434.4,551.6 1437.7,539.2 1440.2,568.2 1442.8,602.2 1445.5,573.9 1448.2,543 1451.1,589.6 1453.9,638.5 1455.8,594.6 1458.2,611 1460.6,622.3 1463,612.8 1465.4,605.1 1466.3,636.6 1469.2,634.7 1472.1,627 1472.1,649 1474.6,647.5 1477.2,650.5 1479.7,648 1483.1,662 1486.4,679.5 1490.2,651.9 1494,677.6 1496.4,674.4 1498.8,668.1 1501.7,686.2 1505.5,671 1509.3,692 1512.7,682.1 1516,674.8 1518.3,687.3 1520.7,694.8 1523.1,692.9 1525.5,696.7 1528.4,677.6 1532.2,695.8 1534.6,690.1 1537,679.5 1539.8,688.8 1542.7,702.5 1546.5,683.4 1550.3,701.5 1552.7,696.2 1555.1,686.2 1557.9,692.3 1560.8,702.5 1563.2,700.3 1565.6,693.9 1568.5,703.4 1571.3,695.8 1574.2,693.9 1577.1,704.4 1579.9,685.3 1582.3,700.6 1584.7,713 1587.6,691 1590.4,711"/>
<polyline fill="none" stroke="#000" stroke-width="6.4" stroke-linejoin="round" stroke-linecap="round" points="997.6,995.5 1001.7,983.2 1003.8,992.9 1006.4,991.9 1009,996.4 1011.4,996.2 1013.7,987.9 1016.1,987.6 1018.7,992.1 1021.3,993.8 1022.7,982.3 1025.1,989.2 1027.5,998.2 1031,981.5 1033.7,983 1036.3,978.8 1039.8,992 1044.2,980.6 1046.8,983.7 1049.5,992 1052.1,996.4 1054.7,990.1 1057.3,989.4 1060.9,977.1 1064,983.1 1067,983.2 1070.5,995.5 1073.2,989.6 1075.8,986.7 1077.5,992 1081.1,985.9 1083.7,988.1 1086.3,985 1088.8,973.8 1091.2,964.8 1094.2,986.7 1098.6,993.8 1099.5,980.6 1102.5,988.1 1105.6,992 1110,984.1 1113.1,979.3 1116.2,979.7 1118.8,984.1 1121.5,983 1124.1,987.6 1127.6,978 1130.6,992.9 1133,988.7 1135.5,982.3 1138.1,993.8 1140.8,980.6 1143.4,972.7 1146.5,972 1149.5,967.4 1151.3,991.1 1154.3,979.6 1157.4,970.9 1159.8,974 1162.1,969.1 1164.5,972.7 1166.2,990.2 1168.8,988.2 1171.5,979.6 1174.1,978 1177.6,988.5 1180,987.7 1182.3,979.9 1184.7,977.1 1185.5,989.4 1188.2,987.2 1190.8,977.7 1193.5,976.2 1196.1,975.6 1198.7,972.7 1202.2,985 1205.3,988.9 1208.4,995.5 1210.7,988.2 1213.1,974.3 1215.4,967.4 1218.1,969.9 1220.7,968.3 1223.3,974.4 1227.7,963.9 1231.2,979.7 1233.8,978.9 1236.5,982.3 1239.5,976.8 1242.6,969.2 1245.2,972.9 1247.9,981.5 1250.6,976.5 1253.2,968.3 1255.8,969.9 1258.4,973.6 1261.1,956 1264.2,969 1267.2,976.2 1269.8,970 1272.5,968.3 1275.5,964 1278.6,956 1283,984.1 1286.5,974.4 1289.6,976.4 1292.7,983.2 1296,982.2 1299.2,938.3 1301.7,966 1305.5,949.7 1308.7,978.4 1311.1,970.3 1313.5,958.3 1316,975.5 1319.8,972.6 1323.6,951.6 1327.5,964.1 1330.9,942.1 1334.1,962.1 1338,952.6 1339.9,968.8 1343.7,954.5 1345,968.8 1349.4,958.3 1352.3,975.5 1355.2,961.4 1358,949.7 1360.4,965.3 1362.8,976.5 1365.7,958.3 1368.5,945 1371.3,956.5 1374.2,963.1 1377.1,937.2 1380,915.4 1383.8,955.5 1387,922.1 1390.1,956.4 1392.7,940.6 1395.2,919.2 1397.8,935.9 1400.4,958.3 1403.3,930.5 1406.3,897.2 1409.2,949.7 1411.8,942.3 1414.3,938.3 1418.7,918.2 1422,930.6 1424.8,896.3 1427.2,923.1 1429.6,946.9 1432.1,903 1435.3,936.4 1438.2,898.2 1441.3,918.6 1445.1,877.9 1448.9,919.9 1452.7,872.8 1456.6,890.6 1459.1,844.7 1462.9,893.2 1466.8,883 1470.6,865.1 1473.1,888.1 1476.9,809.1 1480.8,819.3 1484.6,840.9 1487.8,805.8 1491,774.7 1493.5,772.5 1496,765.8 1496.6,819.3 1501.1,772.1 1504.2,829.5 1507.2,788.1 1510.1,749.2 1513.2,775.5 1516.4,797.6 1520.3,736.5 1522.8,815.4 1526.6,755.6 1529.2,755 1531.7,758.1 1536.3,787.4 1539,772.2 1541.8,753.4 1544.5,739 1547.7,746.5 1550.8,750.5 1553.4,784.9 1557.2,792.5 1559.8,789.6 1562.3,792.5 1564.3,806.5 1567.4,800.2 1568.7,856.2 1572.5,834.6 1575.5,837.1 1577.6,905.9 1579.6,883 1582.7,898.2 1585.7,886.8 1588.7,900.6 1591.6,912.3"/>
<polyline fill="none" stroke="#00f" stroke-width="6.4" stroke-linejoin="round" stroke-linecap="round" points="1001.1,1084.2 1003.8,1079.3 1006.4,1083.3 1009,1093 1011.6,1089.6 1014.3,1080.7 1016.6,1080.5 1019,1092.8 1021.3,1092.1 1023.7,1084 1026,1086.7 1028.4,1078.9 1031.9,1091.2 1034.5,1082.2 1037.1,1081.6 1039.2,1086.5 1041.2,1080.2 1043.3,1084.2 1045.3,1090.6 1047.4,1086 1049.4,1093 1053,1087.7 1055.3,1085 1057.7,1075.1 1060,1074.5 1062.6,1093 1064.8,1090.5 1067,1079.8 1069.2,1077.4 1071.4,1084 1073.6,1078.8 1075.8,1081.6 1078,1086.7 1080.2,1079.3 1082.4,1088 1084.6,1086.8 1087.2,1081.9 1089.8,1083.3 1092.4,1084.4 1095.1,1076.3 1098.6,1090.4 1102.1,1080.7 1104.8,1083.9 1107.4,1093.9 1109.6,1097.1 1111.8,1090.5 1114,1096.1 1116.2,1094.7 1117.9,1085.1 1120.6,1084.8 1123.2,1088.6 1125.4,1084.3 1127.6,1071 1131.1,1088.6 1134.6,1078 1138.1,1094.7 1140.8,1082.4 1143.4,1081.7 1146,1085.1 1148.2,1089.8 1150.4,1091.2 1153.9,1074.5 1156.6,1076.8 1159.2,1088.6 1161.8,1088.3 1164.5,1074.9 1167.1,1075.4 1169.7,1090.4 1173.3,1078.9 1175.5,1091 1177.7,1094.7 1181.2,1077.2 1183.3,1077.7 1185.5,1087.7 1187.7,1084.3 1189.9,1075.4 1192.1,1079.2 1194.3,1091.2 1196.9,1080.1 1199.6,1064.9 1202.2,1091.2 1204.6,1085.9 1206.9,1093.5 1209.3,1088.6 1211.5,1078.5 1213.7,1072.8 1216.3,1080.2 1218.9,1083.3 1221.6,1082.1 1224.2,1085.1 1226.8,1059.6 1228.9,1073.9 1230.9,1075.7 1233,1089.5 1235.2,1087.6 1237.4,1080.7 1239.7,1079.2 1242.1,1089.3 1244.4,1087.7 1247.9,1073.7 1250.6,1068.4 1253.2,1071 1255.8,1079.1 1258.4,1077.2 1260.6,1074.5 1262.8,1080.7 1264.9,1084.6 1266.9,1080.8 1269,1083.3 1272.5,1065.8 1275.2,1069.4 1277.8,1068.4 1280.1,1070.7 1282.5,1080.8 1284.8,1080.7 1288.3,1067.5 1291.8,1076.3 1294.3,1074.1 1296.9,1080.5 1298.8,1065.3 1302.6,1077.7 1306.5,1064.3 1309.9,1077.7 1312,1080.9 1314.1,1079.6 1316.2,1068.6 1318.3,1067.2 1321.7,1075.8 1324.3,1071.4 1326.8,1058.6 1329.4,1054.7 1331.3,1074.8 1333.5,1076.2 1335.6,1065.5 1337.8,1073 1339.9,1066.2 1343.7,1029 1345.9,1037 1348.1,1049 1350.2,1052.2 1352.3,1046.2 1355.7,1060.5 1357.8,1054.4 1359.9,1052.8 1362.8,1059.1 1365.6,1056.7 1368.5,1066.2 1370.9,1053.7 1373.3,1049 1377.1,1058.6 1380.9,1045.2 1382.8,1068.1 1384.7,1048.1 1388.6,1062.4 1392.4,1052.8 1395.2,1062.4 1399,1026.1 1402.9,1050 1405.7,1022.3 1409.6,1041.4 1412.4,1023.2 1415.3,1036.7 1418.2,1046.2 1420.1,1016.6 1422.4,1011.1 1424.8,1008.9 1425.8,984.1 1428.7,984.6 1431.5,975.5 1435.3,995.6 1437.7,987.4 1440.1,982.2 1441.1,1005.1 1443.8,955.6 1447.6,991.2 1451.5,946.7 1455.3,942.8 1457.8,979.8 1460.4,936.5 1463,960.2 1465.5,979.8 1467.5,939 1470.6,964.5 1473.4,931.5 1476.2,908.4 1479.5,965.8 1482,974.2 1484.6,974.7 1485.9,944.1 1488,934.7 1490.1,935.3 1492.2,926.3 1494.8,983.6 1496.6,921.2 1498.8,909.4 1501.1,904.6 1503.7,946.7 1506.8,884.2 1510.1,970.9 1513.9,973.4 1516.4,916.1 1519,970.9 1522,900.8 1524.3,939 1526.6,970.9 1530.4,979.8 1533,932.6 1536.8,986.1 1540.6,968.3 1544.5,965.8 1547,1005.3 1549.6,941.6 1553.4,976 1555.6,964.1 1557.7,955.6 1560.7,976.4 1563.6,992.5 1567.4,965.8 1571.2,1011.6 1573.8,975.3 1576.3,944.1 1580.1,1023.1 1584,1012.9 1587.3,1030.7 1589,990 1592.9,1012.9"/>
<rect x="59.9" y="0.5" width="773.1" height="1104" fill="none" stroke="#000" stroke-width="3.6"/>
<rect x="987.8" y="0.5" width="773.1" height="1104" fill="none" stroke="#000" stroke-width="3.6"/>
<path fill="none" stroke="#000" stroke-width="3.6" d="M59.8 1104.5V1112.6M59.8 0.5V9M102.8 1104.5V1118.8M102.8 0.5V15M145.8 1104.5V1112.6M145.8 0.5V9M188.7 1104.5V1118.8M188.7 0.5V15M231.7 1104.5V1112.6M231.7 0.5V9M274.6 1104.5V1118.8M274.6 0.5V15M317.6 1104.5V1112.6M317.6 0.5V9M360.5 1104.5V1118.8M360.5 0.5V15M403.5 1104.5V1112.6M403.5 0.5V9M446.4 1104.5V1118.8M446.4 0.5V15M489.4 1104.5V1112.6M489.4 0.5V9M532.3 1104.5V1118.8M532.3 0.5V15M575.2 1104.5V1112.6M575.2 0.5V9M618.2 1104.5V1118.8M618.2 0.5V15M661.1 1104.5V1112.6M661.1 0.5V9M704.1 1104.5V1118.8M704.1 0.5V15M747 1104.5V1112.6M747 0.5V9M790 1104.5V1118.8M790 0.5V15M833 1104.5V1112.6M833 0.5V9M987.8 1104.5V1118.8M987.8 0.5V15M1005 1104.5V1112.6M1005 0.5V9M1022.2 1104.5V1112.6M1022.2 0.5V9M1039.3 1104.5V1112.6M1039.3 0.5V9M1056.5 1104.5V1112.6M1056.5 0.5V9M1073.7 1104.5V1112.6M1073.7 0.5V9M1090.9 1104.5V1112.6M1090.9 0.5V9M1108.1 1104.5V1112.6M1108.1 0.5V9M1125.2 1104.5V1112.6M1125.2 0.5V9M1142.4 1104.5V1112.6M1142.4 0.5V9M1159.6 1104.5V1118.8M1159.6 0.5V15M1176.8 1104.5V1112.6M1176.8 0.5V9M1194 1104.5V1112.6M1194 0.5V9M1211.1 1104.5V1112.6M1211.1 0.5V9M1228.3 1104.5V1112.6M1228.3 0.5V9M1245.5 1104.5V1112.6M1245.5 0.5V9M1262.7 1104.5V1112.6M1262.7 0.5V9M1279.9 1104.5V1112.6M1279.9 0.5V9M1297 1104.5V1112.6M1297 0.5V9M1314.2 1104.5V1112.6M1314.2 0.5V9M1331.4 1104.5V1118.8M1331.4 0.5V15M1348.6 1104.5V1112.6M1348.6 0.5V9M1365.8 1104.5V1112.6M1365.8 0.5V9M1382.9 1104.5V1112.6M1382.9 0.5V9M1400.1 1104.5V1112.6M1400.1 0.5V9M1417.3 1104.5V1112.6M1417.3 0.5V9M1434.5 1104.5V1112.6M1434.5 0.5V9M1451.7 1104.5V1112.6M1451.7 0.5V9M1468.8 1104.5V1112.6M1468.8 0.5V9M1486 1104.5V1112.6M1486 0.5V9M1503.2 1104.5V1118.8M1503.2 0.5V15M1520.4 1104.5V1112.6M1520.4 0.5V9M1537.6 1104.5V1112.6M1537.6 0.5V9M1554.7 1104.5V1112.6M1554.7 0.5V9M1571.9 1104.5V1112.6M1571.9 0.5V9M1589.1 1104.5V1112.6M1589.1 0.5V9M1606.3 1104.5V1112.6M1606.3 0.5V9M1623.5 1104.5V1112.6M1623.5 0.5V9M1640.6 1104.5V1112.6M1640.6 0.5V9M1657.8 1104.5V1112.6M1657.8 0.5V9M1675 1104.5V1118.8M1675 0.5V15M1692.2 1104.5V1112.6M1692.2 0.5V9M1709.4 1104.5V1112.6M1709.4 0.5V9M1726.5 1104.5V1112.6M1726.5 0.5V9M1743.7 1104.5V1112.6M1743.7 0.5V9M1760.9 1104.5V1112.6M1760.9 0.5V9"/>
<text x="102.8" y="1166.3" font-size="47.6" text-anchor="middle" font-weight="normal">0</text>
<text x="188.7" y="1166.3" font-size="47.6" text-anchor="middle" font-weight="normal">2</text>
<text x="274.6" y="1166.3" font-size="47.6" text-anchor="middle" font-weight="normal">4</text>
<text x="360.5" y="1166.3" font-size="47.6" text-anchor="middle" font-weight="normal">6</text>
<text x="446.4" y="1166.3" font-size="47.6" text-anchor="middle" font-weight="normal">8</text>
<text x="532.3" y="1166.3" font-size="47.6" text-anchor="middle" font-weight="normal">10</text>
<text x="618.2" y="1166.3" font-size="47.6" text-anchor="middle" font-weight="normal">12</text>
<text x="704.1" y="1166.3" font-size="47.6" text-anchor="middle" font-weight="normal">14</text>
<text x="790" y="1166.3" font-size="47.6" text-anchor="middle" font-weight="normal">16</text>
<text x="987.8" y="1166.3" font-size="47.6" text-anchor="middle" font-weight="normal">100</text>
<text x="1159.6" y="1166.3" font-size="47.6" text-anchor="middle" font-weight="normal">200</text>
<text x="1331.4" y="1166.3" font-size="47.6" text-anchor="middle" font-weight="normal">300</text>
<text x="1503.2" y="1166.3" font-size="47.6" text-anchor="middle" font-weight="normal">400</text>
<text x="1675" y="1166.3" font-size="47.6" text-anchor="middle" font-weight="normal">500</text>
<text transform="translate(78.43 97.60) scale(0.9587 1)" font-size="47.6" font-weight="bold">(a) ESD</text>
<text transform="translate(1023.41 97.60) scale(0.9644 1)" font-size="47.6" font-weight="bold">(b) TDS</text>
<text transform="translate(682.87 621.50) scale(0.9581 1)" font-size="47.6">m/z 41</text>
<text transform="translate(682.85 1035.30) scale(0.9652 1)" font-size="47.6">m/z 36</text>
<text transform="translate(1608.77 621.50) scale(0.9581 1)" font-size="47.6">m/z 41</text>
<text transform="translate(1608.74 1035.30) scale(0.9688 1)" font-size="47.6">m/z 36</text>
<text transform="translate(212.63 1247.20) scale(0.9645 1)" font-size="47.6">Exposure (10</text>
<text transform="translate(486.97 1215.50) scale(0.9564 1)" font-size="33.3">16</text>
<text transform="translate(523.66 1247.20) scale(1.0074 1)" font-size="47.6">e</text>
<text transform="translate(550.28 1215.50) scale(0.9890 1)" font-size="33.3">−</text>
<text transform="translate(571.30 1247.20) scale(0.9789 1)" font-size="47.6">/cm²)</text>
<text transform="translate(1323.16 1225.50) scale(0.9732 1)" font-size="47.6">T (K)</text>
<text transform="translate(33.60 793.67) rotate(-90) scale(0.9655 1)" font-size="47.6">MS intensity (arb. units)</text>
<text transform="translate(961.90 793.67) rotate(-90) scale(0.9655 1)" font-size="47.6">MS intensity (arb. units)</text>
</svg></body></html>
